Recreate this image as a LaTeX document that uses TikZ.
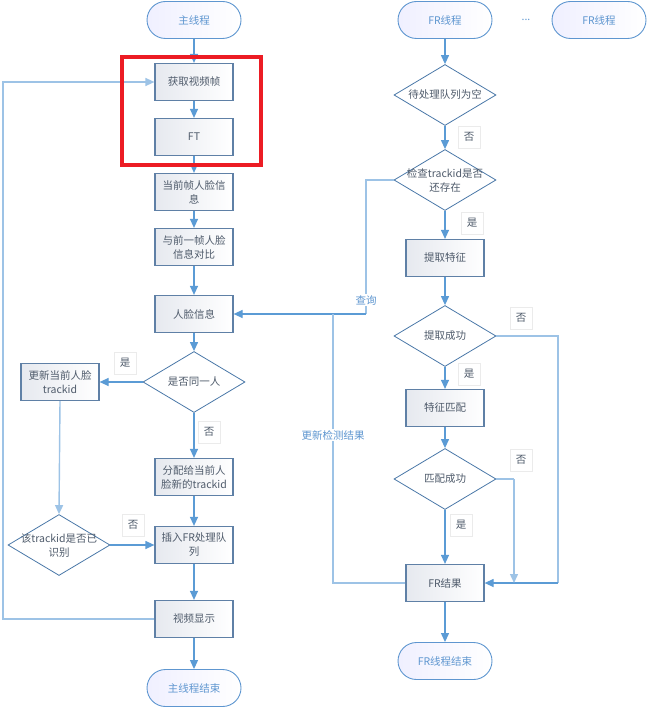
\documentclass[tikz,border=0pt]{standalone}
\usepackage{fontspec}
\setmainfont{Noto Sans CJK SC}
\usetikzlibrary{shapes.geometric,arrows.meta,positioning}
\definecolor{cLine}{HTML}{5B9BD5}
\definecolor{cLight}{HTML}{9DC3E6}
\definecolor{cBox}{HTML}{5F80A6}
\definecolor{cDia}{HTML}{4A78A8}
\definecolor{cTxt}{HTML}{4F5B6B}
\definecolor{cTerm}{HTML}{5E96D0}
\definecolor{cRed}{HTML}{EC1C24}
\definecolor{cFill}{HTML}{E6E9EF}
\tikzset{
  base/.style={font=\fontsize{10.5}{14}\selectfont, align=center, inner sep=0pt},
  procbox/.style={base, rectangle, draw=cBox, line width=1.2pt, minimum width=78pt, minimum height=37pt,
     left color=cFill, right color=white, text=cTxt},
  decis/.style={base, diamond, draw=cDia, line width=0.8pt, fill=white, minimum width=102pt, minimum height=61pt, aspect=1.67},
  term/.style={base, rectangle, rounded corners=18.5pt, draw=cTerm, line width=0.9pt, minimum width=94pt, minimum height=37pt,
     left color=blue!6!white, right color=white, text=cTerm},
  lbl/.style={base, rectangle, draw=black!8, line width=0.8pt, fill=white, minimum width=22pt, minimum height=22pt, text=cTxt},
  clbl/.style={base, fill=white, text=cTerm, inner sep=1pt},
  arr/.style={draw=cLine, line width=1.2pt, -{Triangle[width=8pt,length=9pt]}},
  arrl/.style={draw=cLight, line width=1.4pt, -{Triangle[width=8pt,length=9pt]}, color=cLight},
  conn/.style={draw=cLight, line width=1.4pt},
}
\begin{document}
\begin{tikzpicture}[x=1pt,y=-1pt]
\useasboundingbox (0,0) rectangle (647,708);
% main thread
\node[term] (start) at (194,20) {主线程};
\node[procbox] (get) at (194,82) {获取视频帧};
\node[procbox] (ft) at (194,137) {FT};
\node[procbox] (cur) at (194,192) {当前帧人脸信\\息};
\node[procbox] (cmp) at (194,247) {与前一帧人脸\\信息对比};
\node[procbox] (face) at (194,314) {人脸信息};
\node[decis, label={[base,text=cTxt]center:是否同一人}] (same) at (194,382) {};
\node[procbox] (upd) at (60,382) {更新当前人脸\\trackid};
\node[procbox] (alloc) at (194,477) {分配给当前人\\脸新的trackid};
\node[decis, label={[base,text=cTxt]center:该trackid是否已\\识别}] (recog) at (59,545) {};
\node[procbox] (ins) at (194,545) {插入FR处理队\\列};
\node[procbox] (disp) at (194,619) {视频显示};
\node[term] (mend) at (194,688) {主线程结束};
\coordinate (lb) at (3,619);
\coordinate (lt) at (3,82);

% FR thread
\node[term] (fr1) at (445,20) {FR线程};
\node[base, text=cTerm] (dots) at (526,20) {...};
\node[term] (fr2) at (599,20) {FR线程};
\node[decis, label={[base,text=cTxt]center:待处理队列为空}] (empty) at (445,95) {};
\node[decis, label={[base,text=cTxt]center:检查trackid是否\\还存在}] (check) at (445,180) {};
\node[procbox] (feat) at (445,258) {提取特征};
\node[decis, label={[base,text=cTxt]center:提取成功}] (succ1) at (445,336) {};
\node[procbox] (match) at (445,408) {特征匹配};
\node[decis, label={[base,text=cTxt]center:匹配成功}] (succ2) at (445,479) {};
\node[procbox] (res) at (445,583) {FR结果};
\node[term] (frend) at (445,661) {FR线程结束};
\coordinate (q1) at (366,180);
\coordinate (q2) at (366,314);
\coordinate (u1) at (333,583);
\coordinate (u2) at (333,314);
\coordinate (n1a) at (558,336);
\coordinate (n1b) at (558,583);
\coordinate (n2a) at (514,479);
\coordinate (n2b) at (514,583);

% main connectors
\draw[arr] (start) -- (get);
\draw[arr] (get) -- (ft);
\draw[arr] (ft) -- (cur);
\draw[arr] (cur) -- (cmp);
\draw[arr] (cmp) -- (face);
\draw[arr] (face) -- (same);
\draw[arr] (same.west) -- (upd.east);
\draw[arr] (same.south) -- (alloc.north);
\draw[arr] (alloc) -- (ins);
\draw[arrl] (upd.south) -- (recog.north);
\draw[arr] (recog.east) -- (ins.west);
\draw[arr] (ins) -- (disp);
\draw[arr] (disp) -- (mend);
\draw[arrl] (disp.west) -- (lb) -- (lt) -- (get.west);

% FR connectors
\draw[arr] (fr1) -- (empty.north);
\draw[arr] (empty.south) -- (check.north);
\draw[arr] (check.south) -- (feat.north);
\draw[arr] (feat) -- (succ1.north);
\draw[arr] (succ1.south) -- (match.north);
\draw[arr] (match) -- (succ2.north);
\draw[arr] (succ2.south) -- (res.north);
\draw[arr] (res) -- (frend);
\draw[conn] (check.west) -- (q1) -- (q2);
\draw[arr] (q2) -- (face.east);
\draw[conn] (res.west) -- (u1) -- (u2);
\draw[conn] (succ1.east) -- (n1a) -- (n1b);
\draw[arr] (n1b) -- (res.east);
\draw[conn] (succ2.east) -- (n2a);
\draw[arrl] (n2a) -- (n2b);

% labels
\node[lbl] (l1) at (125,363) {是};
\node[lbl] (l2) at (209,432) {否};
\node[lbl] (l3) at (133,525) {否};
\node[lbl] (l4) at (469,137) {否};
\node[lbl] (l5) at (472,223) {是};
\node[lbl] (l6) at (521,318) {否};
\node[lbl] (l7) at (469,374) {是};
\node[lbl] (l8) at (521,460) {否};
\node[lbl] (l9) at (461,525) {是};
\node[clbl] (lq) at (366,300) {查询};
\node[clbl] (lu) at (333,435) {更新检测结果};

% highlight
\node[draw=cRed, line width=4pt, minimum width=139pt, minimum height=108pt, inner sep=0pt] (hl) at (191.5,111) {};
\end{tikzpicture}
\end{document}
